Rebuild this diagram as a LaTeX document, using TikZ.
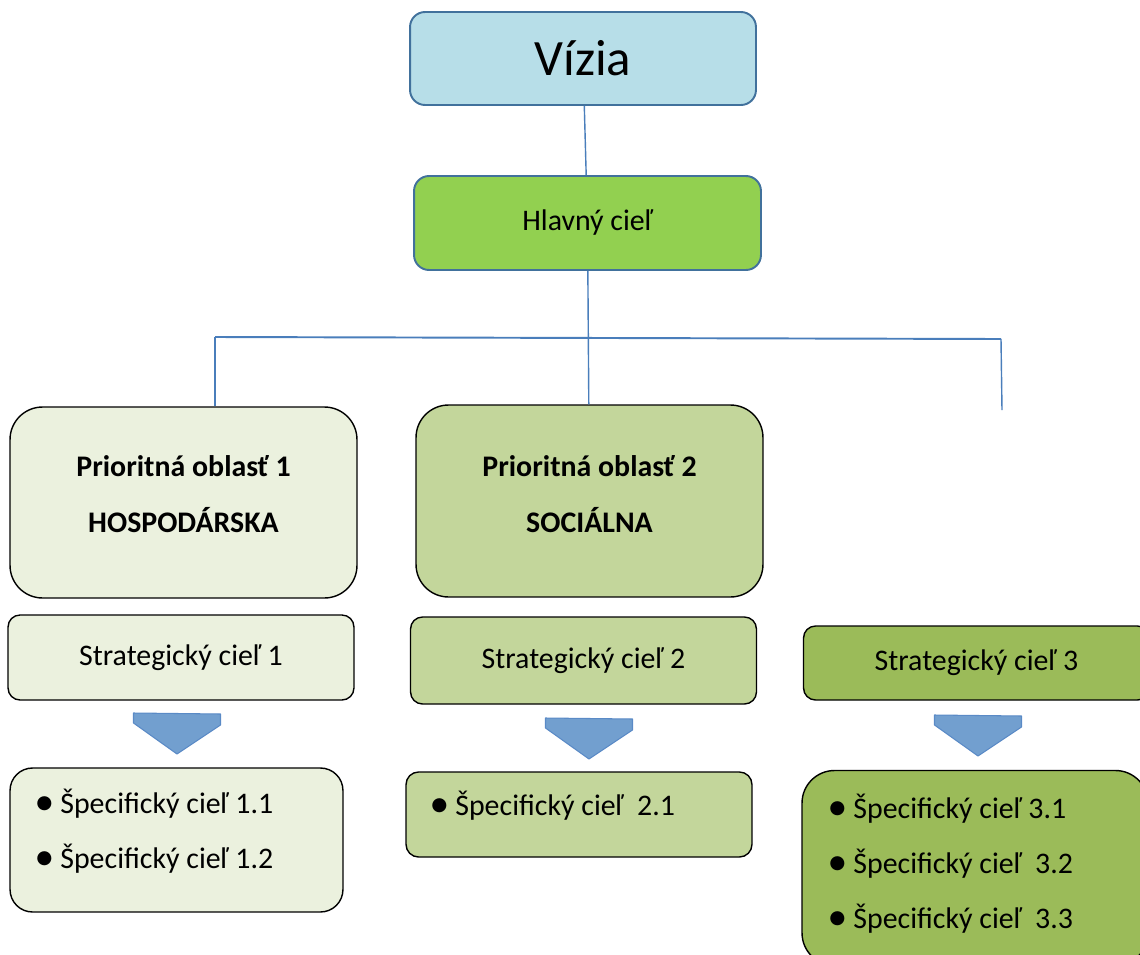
\documentclass[tikz,border=0pt]{standalone}
\usepackage{fontspec}
\setmainfont{Carlito}
\newfontfamily\bulletfont{DejaVu Sans}
\usetikzlibrary{arrows,calc,shapes}
\tikzset{>=latex}
\definecolor{visionfill}{HTML}{B7DEE8}
\definecolor{visionline}{HTML}{41719C}
\definecolor{maingreen}{HTML}{92D050}
\definecolor{lightgreen}{HTML}{EBF1DE}
\definecolor{midgreen}{HTML}{C3D69B}
\definecolor{darkgreen}{HTML}{9BBB59}
\definecolor{linkblue}{HTML}{4A7EBB}
\definecolor{chevfill}{HTML}{729FCF}
\definecolor{chevline}{HTML}{5A8AC6}
\newcommand{\bul}{\raisebox{2.5pt}{\bulletfont\fontsize{10.5}{11}\selectfont ●}\hspace{4.5pt}}
\tikzstyle{vision}=[rectangle,draw=visionline,fill=visionfill,line width=1.1pt,minimum width=6.92cm,minimum height=1.86cm,rounded corners=0.3cm,font=\fontsize{29}{34}\selectfont]
\tikzstyle{maingoal}=[rectangle,draw=visionline,fill=maingreen,line width=1.1pt,minimum width=6.94cm,minimum height=1.88cm,rounded corners=0.3cm,font=\fontsize{17}{20}\selectfont]
\tikzstyle{prio}=[rectangle,draw=black,line width=0.8pt,minimum width=6.94cm,rounded corners=0.65cm]
\tikzstyle{prlabel}=[align=center,font=\fontsize{17}{31.5}\selectfont\bfseries]
\tikzstyle{strat}=[rectangle,draw=black,line width=0.8pt,minimum width=6.92cm,rounded corners=0.24cm,font=\fontsize{17}{20}\selectfont]
\tikzstyle{spec}=[rectangle,draw=black,line width=0.8pt]
\tikzstyle{item}=[anchor=base west,inner sep=0pt,font=\fontsize{17}{20}\selectfont]
\tikzstyle{chevron}=[draw=chevline,fill=chevfill,line width=0.6pt,line join=round]
\tikzstyle{link}=[draw=linkblue,line width=0.8pt]

\begin{document}
\begin{tikzpicture}[x=0.02cm,y=-0.02cm,inner sep=1mm]
    \useasboundingbox (0,0) rectangle (1140,954);
    \clip (0,0) rectangle (1140,954);

    \node[vision] (viz) at (583,58.5) {Vízia};
    \node[maingoal] (hc) at (587.5,223) {Hlavný cieľ};

    \node[prio, fill=lightgreen, minimum height=3.82cm] (po1) at (183.5,502.5) {};
    \node[prio, fill=midgreen, minimum height=3.84cm] (po2) at (589.5,501) {};
    \node[prlabel] (pl1) at (183.5,494) {Prioritná oblasť 1\\HOSPODÁRSKA};
    \node[prlabel] (pl2) at (589.5,494) {Prioritná oblasť 2\\SOCIÁLNA};

    \node[strat, fill=lightgreen, minimum height=1.70cm] (sc1) at (181,657.5) {Strategický cieľ 1};
    \node[strat, fill=midgreen, minimum height=1.74cm] (sc2) at (583.5,660.5) {Strategický cieľ 2};
    \node[strat, fill=darkgreen, minimum height=1.48cm] (sc3) at (976.5,663) {Strategický cieľ 3};

    % arrows between strategic and specific goals
    \foreach \x/\y in {177/713, 589/718, 978/715} {
        \draw[chevron] (\x-43.5,\y) -- (\x+43.5,\y+1) -- (\x+43.5,\y+12) -- (\x,\y+41) -- (\x-43.5,\y+10) -- cycle;
    };

    \node[spec, fill=lightgreen, minimum width=6.66cm, minimum height=2.88cm, rounded corners=0.45cm] (sp1) at (176.5,840) {};
    \node[spec, fill=midgreen, minimum width=6.92cm, minimum height=1.70cm, rounded corners=0.25cm] (sp2) at (579,814.5) {};
    \node[spec, fill=darkgreen, minimum width=6.92cm, minimum height=3.90cm, rounded corners=0.65cm] (sp3) at (975,868) {};

    \node[item] (s11) at (36,813) {\bul Špecifický cieľ 1.1};
    \node[item] (s12) at (36,868) {\bul Špecifický cieľ 1.2};
    \node[item] (s21) at (431,815) {\bul Špecifický cieľ~ 2.1};
    \node[item] (s31) at (829,818) {\bul Špecifický cieľ 3.1};
    \node[item] (s32) at (829,873) {\bul Špecifický cieľ~ 3.2};
    \node[item] (s33) at (829,928) {\bul Špecifický cieľ~ 3.3};

    \coordinate (bl) at (215,337);
    \coordinate (br) at (1001,339);
    \coordinate (rend) at (1002,410);

    \draw[-, link] (viz) -- (hc);
    \draw[-, link] (hc) -- (po2);
    \draw[-, link, line width=1.1pt] (bl) -- (br);
    \draw[-, link] (bl) -- (bl |- po1.north);
    \draw[-, link] (br) -- (rend);
\end{tikzpicture}
\end{document}
